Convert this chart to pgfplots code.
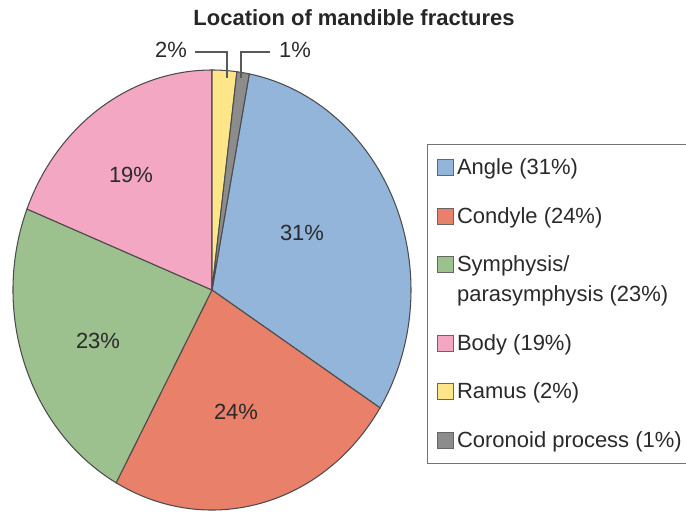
\documentclass[border=0pt]{standalone}
\usepackage{fontspec}
\setmainfont{Liberation Sans}
\usepackage{pgfplots}
\usepackage{pgfplotstable}
\pgfplotsset{compat=1.18}
\definecolor{cAngle}{HTML}{93B5DA}
\definecolor{cCondyle}{HTML}{E8806A}
\definecolor{cSymph}{HTML}{9DC08F}
\definecolor{cBody}{HTML}{F3A7C2}
\definecolor{cRamus}{HTML}{FDE68A}
\definecolor{cCoron}{HTML}{8C8C8C}
\definecolor{txt}{HTML}{2A2A2A}

\pgfplotstableread{
label pct col
Angle 31 cAngle
Condyle 24 cCondyle
Symphysis 23 cSymph
Body 19 cBody
Ramus 2 cRamus
Coronoid 1 cCoron
}\pietable

\begin{document}
\begin{tikzpicture}
\useasboundingbox (0,0) rectangle (13.72cm,10.24cm);
\begin{axis}[
  at={(0,0)}, anchor=south west,
  scale only axis, width=13.72cm, height=10.24cm,
  xmin=0, xmax=686, ymin=0, ymax=512,
  axis lines=none, clip=false,
  legend image code/.code={\filldraw[#1] (0cm,-0.02cm) rectangle (0.32cm,0.30cm);},
  legend style={at={(axis cs:427,368)}, anchor=north west,
    draw=black!55, line width=0.6pt,
    inner xsep=0.18cm, inner ysep=0.21cm, row sep=0.46cm,
    font=\fontsize{12.5}{17}\selectfont, text=txt,
    cells={anchor=base west, align=left}},
]
\def\startang{79.2}
\pgfplotsforeachungrouped \i in {0,...,5}{%
  \pgfplotstablegetelem{\i}{pct}\of\pietable
  \let\p=\pgfplotsretval
  \pgfplotstablegetelem{\i}{col}\of\pietable
  \let\c=\pgfplotsretval
  \pgfmathsetmacro\endang{\startang - 3.6*\p}%
  \pgfmathsetmacro\sx{212+199*cos(\startang)}%
  \pgfmathsetmacro\sy{222+220*sin(\startang)}%
  \edef\temp{\noexpand\filldraw[fill=\c, draw=black!70, line width=0.6pt]
    (axis cs:212,222) -- (axis cs:\sx,\sy)
    arc[start angle=\startang, end angle=\endang, x radius=3.98cm, y radius=4.4cm] -- cycle;}%
  \temp
  \global\let\startang=\endang
}
\addlegendimage{fill=cAngle, draw=black!60}
\addlegendentry{Angle (31\%)}
\addlegendimage{fill=cCondyle, draw=black!60}
\addlegendentry{Condyle (24\%)}
\addlegendimage{legend image code/.code={\filldraw[fill=cSymph, draw=black!60] (0cm,0.58cm) rectangle (0.32cm,0.90cm);}}
\addlegendentry{Symphysis/\\parasymphysis (23\%)}
\addlegendimage{fill=cBody, draw=black!60}
\addlegendentry{Body (19\%)}
\addlegendimage{fill=cRamus, draw=black!60}
\addlegendentry{Ramus (2\%)}
\addlegendimage{fill=cCoron, draw=black!60}
\addlegendentry{Coronoid process (1\%)}

\node[font=\fontsize{12.5}{15}\selectfont\bfseries, text=black!85, anchor=base] at (axis cs:354,486) {Location of mandible fractures};
\begin{scope}[font=\fontsize{12.5}{15}\selectfont, text=txt]
\node at (axis cs:131,337) {19\%};
\node at (axis cs:302,279) {31\%};
\node at (axis cs:98,171) {23\%};
\node at (axis cs:236,100) {24\%};
\node at (axis cs:171,462) {2\%};
\node at (axis cs:295,462) {1\%};
\end{scope}
\draw[black!65, line width=0.7pt] (axis cs:195,460) -- (axis cs:227,460) -- (axis cs:227,434);
\draw[black!65, line width=0.7pt] (axis cs:270,460) -- (axis cs:241,460) -- (axis cs:241,434);
\end{axis}
\end{tikzpicture}
\end{document}
